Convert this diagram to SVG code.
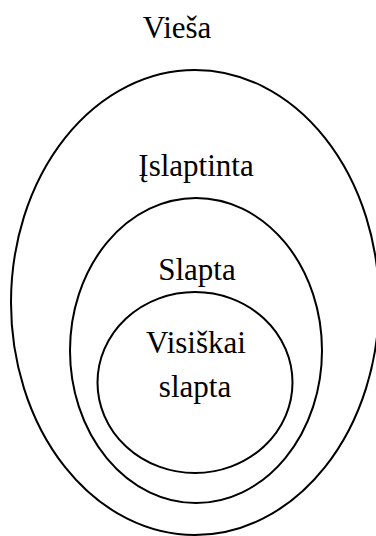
<svg xmlns="http://www.w3.org/2000/svg" width="376" height="536" viewBox="0 0 376 536">
<style>
.ring{fill:none;stroke:#000;stroke-width:2}
.lbl{font-family:"Liberation Serif","Times New Roman",serif;font-size:31px;fill:#000;text-anchor:middle}
</style>
<rect width="376" height="536" fill="#fff"/>
<g id="viesa">
<ellipse class="ring" cx="195" cy="302.5" rx="184" ry="232.5"/>
<text class="lbl" x="177" y="38">Vieša</text>
</g>
<g id="islaptinta">
<ellipse class="ring" cx="196" cy="350.5" rx="126" ry="152.5"/>
<text class="lbl" x="196" y="176">Įslaptinta</text>
</g>
<g id="slapta">
<text class="lbl" x="197" y="280">Slapta</text>
</g>
<g id="visiskai-slapta">
<ellipse class="ring" cx="195" cy="382.5" rx="97.5" ry="90.5"/>
<text class="lbl" x="196" y="353">Visiškai</text>
<text class="lbl" x="195" y="397">slapta</text>
</g>
<g id="connectors"/>
</svg>
